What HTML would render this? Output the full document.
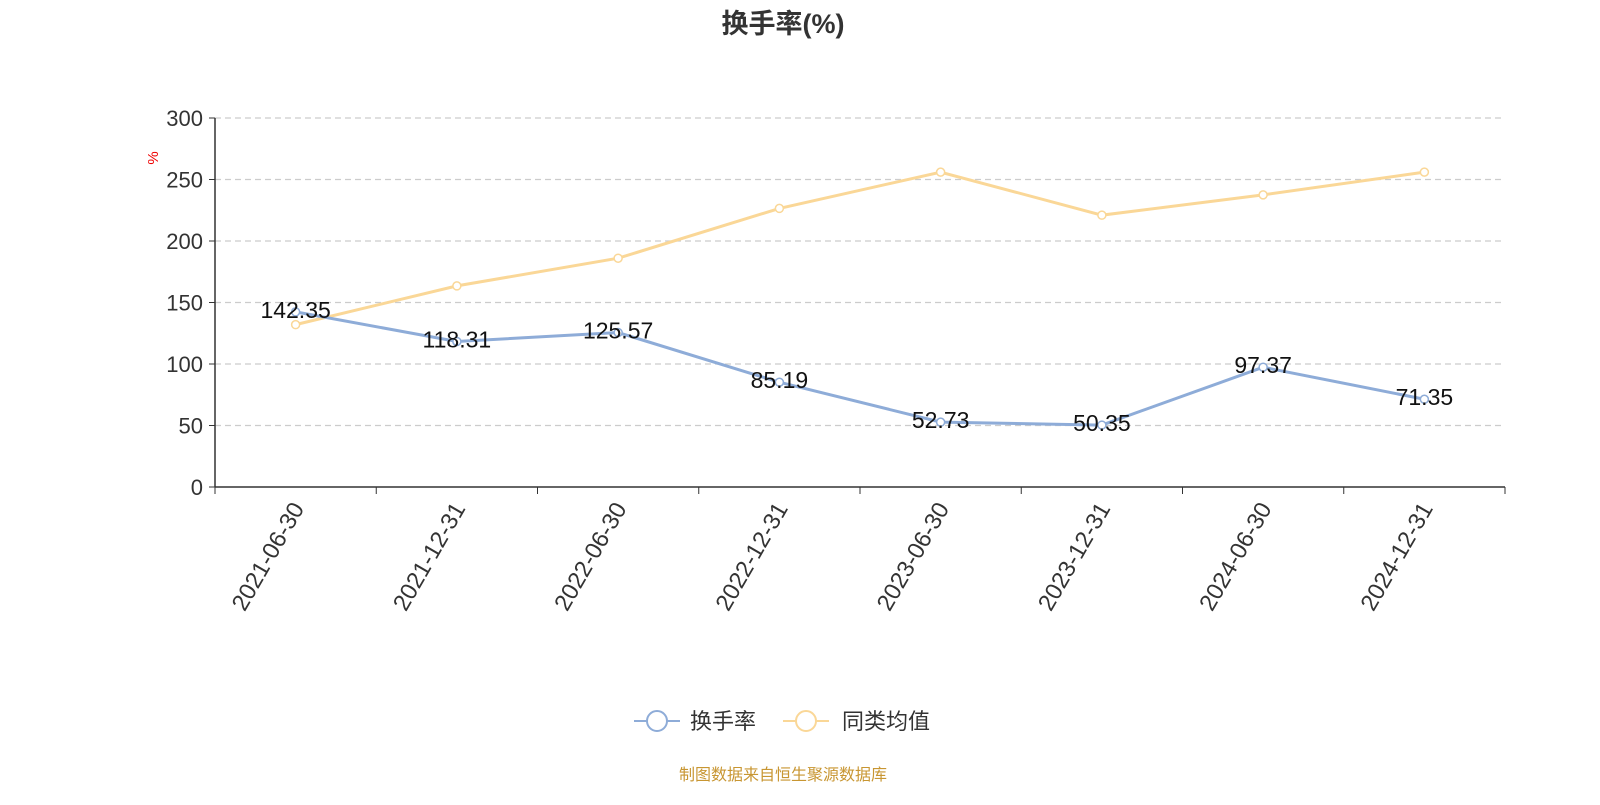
<!DOCTYPE html>
<html><head><meta charset="utf-8"><style>
body{margin:0;background:#fff;width:1600px;height:800px;overflow:hidden;font-family:"Liberation Sans","Noto Sans CJK SC",sans-serif}
</style></head><body>
<svg id="chart" width="1600" height="800" xmlns="http://www.w3.org/2000/svg" font-family="Liberation Sans, Noto Sans CJK SC, sans-serif">
<text x="783" y="33" text-anchor="middle" font-size="27" font-weight="bold" fill="#333">换手率(%)</text>
<text x="158" y="158" transform="rotate(-90 158 158)" text-anchor="middle" font-size="15" fill="#e00">%</text>
<g id="grid"></g><g id="axes"></g><g id="series"></g>
<g>
<g>
<line x1="634" y1="721" x2="680" y2="721" stroke="#8eacd8" stroke-width="2"/><circle cx="657" cy="721" r="10" fill="#fff" stroke="#8eacd8" stroke-width="2"/>
<text x="690" y="729" font-size="22" fill="#333">换手率</text></g>
<g>
<line x1="783" y1="721" x2="829" y2="721" stroke="#fad797" stroke-width="2"/><circle cx="806" cy="721" r="10" fill="#fff" stroke="#fad797" stroke-width="2"/>
<text x="842" y="729" font-size="22" fill="#333">同类均值</text></g>
</g>
<text x="783" y="780" text-anchor="middle" font-size="16" fill="#c89632">制图数据来自恒生聚源数据库</text>
</svg>
<script>
const categories=["2021-06-30","2021-12-31","2022-06-30","2022-12-31","2023-06-30","2023-12-31","2024-06-30","2024-12-31"];
const turnover=[142.35,118.31,125.57,85.19,52.73,50.35,97.37,71.35];
const peerAvg=[132,163.5,186,226.5,256,221,237.5,256];
const yTicks=[0,50,100,150,200,250,300];
const NS="http://www.w3.org/2000/svg";
const X0=215,X1=1505,Y0=487,Y1=118,YMAX=300;
const bw=(X1-X0)/categories.length;
const xs=i=>X0+bw*(i+0.5);
const ys=v=>Y0-(v/YMAX)*(Y0-Y1);
function mk(tag,attrs,parent,txt){const e=document.createElementNS(NS,tag);for(const k in attrs)e.setAttribute(k,attrs[k]);if(txt!==undefined)e.textContent=txt;parent.appendChild(e);return e;}
const grid=document.getElementById('grid'),axes=document.getElementById('axes'),ser=document.getElementById('series');
yTicks.forEach(t=>{
  if(t>0){const g=mk('line',{x1:X0,x2:X1,y1:ys(t),y2:ys(t),stroke:'#ccc','stroke-dasharray':'6,4','stroke-width':1.3},grid);
  
  }
  mk('line',{x1:X0-6,x2:X0,y1:ys(t),y2:ys(t),stroke:'#333'},axes);
  const l=mk('text',{x:X0-12,y:ys(t)+8,'text-anchor':'end','font-size':22,fill:'#333'},axes,t);
  
  
});
const ya=mk('line',{x1:X0,x2:X0,y1:Y1,y2:Y0,stroke:'#333','stroke-width':1.5},axes);


const xa=mk('line',{x1:X0,x2:X1,y1:Y0,y2:Y0,stroke:'#333','stroke-width':1.5},axes);


for(let i=0;i<=categories.length;i++){mk('line',{x1:X0+bw*i,x2:X0+bw*i,y1:Y0,y2:Y0+7,stroke:'#333'},axes);}
categories.forEach((c,i)=>{
  const x=xs(i),y=Y0+16;
  const t=mk('text',{x:x,y:y,'text-anchor':'end','font-size':23.5,fill:'#333',transform:`rotate(-60 ${x} ${y})`,dy:'0.45em'},axes,c);
  
  
});
function line(vals,color,name,labels){
  const p=mk('polyline',{points:vals.map((v,i)=>xs(i)+','+ys(v)).join(' '),fill:'none',stroke:color,'stroke-width':3},ser);
  
  
  vals.forEach((v,i)=>{
    const c=mk('circle',{cx:xs(i),cy:ys(v),r:4,fill:'#fff',stroke:color,'stroke-width':1.5},ser);
    
    
  });
  if(labels)vals.forEach((v,i)=>{
    const t=mk('text',{x:xs(i),y:ys(v)+6,'text-anchor':'middle','font-size':23,fill:'#111'},ser,v.toFixed(2));
    
    
  });
}
line(peerAvg,'#fad797','peer-average',false);
line(turnover,'#8eacd8','turnover',true);
</script>
</body></html>
